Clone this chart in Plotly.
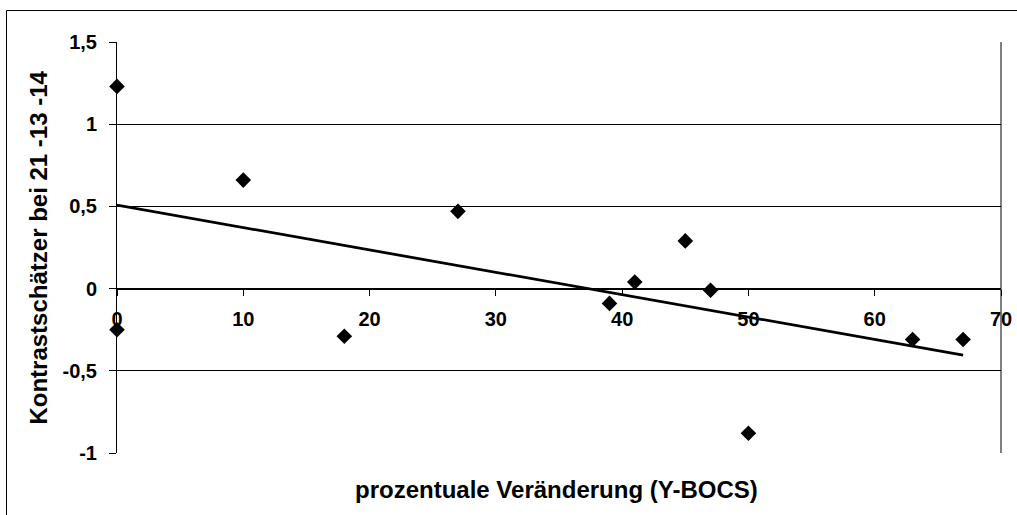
import numpy as np
import plotly.graph_objects as go

# Percentage change in Y-BOCS vs. contrast estimate
change_pct = [0, 0, 10, 18, 27, 39, 41, 45, 47, 50, 63, 67]
contrast = [1.23, -0.25, 0.66, -0.29, 0.47, -0.09, 0.04, 0.29, -0.01, -0.88, -0.31, -0.31]

y_tickvals = [-1, -0.5, 0, 0.5, 1, 1.5]
y_ticktext = ["-1", "-0,5", "0", "0,5", "1", "1,5"]
x_tickvals = [0, 10, 20, 30, 40, 50, 60, 70]
x_ticktext = ["0", "10", "20", "30", "40", "50", "60", "70"]

x_title = "prozentuale Veränderung (Y-BOCS)"
y_title = "Kontrastschätzer bei 21 -13 -14"

# Linear trend line over the observed x range
slope, intercept = np.polyfit(change_pct, contrast, 1)
trend_x = np.array([min(change_pct), max(change_pct)])
trend_y = slope * trend_x + intercept

FONT = "Arial, Liberation Sans, sans-serif"
TICK_FONT = dict(family=FONT, size=20, color="black", weight="bold")
TITLE_FONT = dict(family=FONT, size=24, color="black", weight="bold")

fig = go.Figure()
fig.add_trace(go.Scatter(
    x=trend_x, y=trend_y, mode="lines",
    line=dict(color="black", width=2.75),
    hoverinfo="skip", showlegend=False, cliponaxis=False,
))
fig.add_trace(go.Scatter(
    x=change_pct, y=contrast, mode="markers",
    marker=dict(symbol="diamond", size=12, color="black", line=dict(width=0)),
    showlegend=False, cliponaxis=False,
))

fig.update_layout(
    width=1017, height=515,
    margin=dict(l=117, r=16, t=42, b=62, autoexpand=False),
    paper_bgcolor="white", plot_bgcolor="white",
    font=dict(family=FONT, color="black", size=20, weight="bold"),
    xaxis=dict(
        range=[0, 70], tickvals=x_tickvals, ticktext=x_ticktext,
        anchor="free", position=0.4, automargin=False,
        showgrid=False, zeroline=False,
        showline=True, linecolor="black", linewidth=1,
        ticks="outside", ticklen=6, tickcolor="black", tickwidth=1,
        ticklabelstandoff=6,
        tickfont=TICK_FONT,
    ),
    yaxis=dict(
        range=[-1, 1.5], tickvals=y_tickvals, ticktext=y_ticktext,
        automargin=False,
        showgrid=True, gridcolor="black", gridwidth=1,
        zeroline=True, zerolinecolor="black", zerolinewidth=1,
        showline=True, linecolor="black", linewidth=1,
        ticks="outside", ticklen=7, tickcolor="black", tickwidth=1,
        ticklabelstandoff=8,
        tickfont=TICK_FONT,
    ),
    shapes=[
        # right edge of the plot area
        dict(type="line", xref="paper", yref="paper", x0=1, x1=1, y0=0, y1=1,
             line=dict(color="black", width=1)),
        # chart frame
        dict(type="rect", xref="paper", yref="paper",
             x0=-0.1250, x1=1.0215, y0=-0.163, y1=1.0766,
             line=dict(color="black", width=1), layer="below"),
    ],
    annotations=[
        dict(text=x_title, xref="paper", yref="paper", x=0.497, y=-0.0895,
             showarrow=False, xanchor="center", yanchor="middle",
             font=TITLE_FONT),
        dict(text=y_title, xref="paper", yref="paper", x=-0.0893, y=0.5,
             showarrow=False, xanchor="center", yanchor="middle", textangle=-90,
             font=TITLE_FONT),
    ],
)

fig.write_html("out.html")
